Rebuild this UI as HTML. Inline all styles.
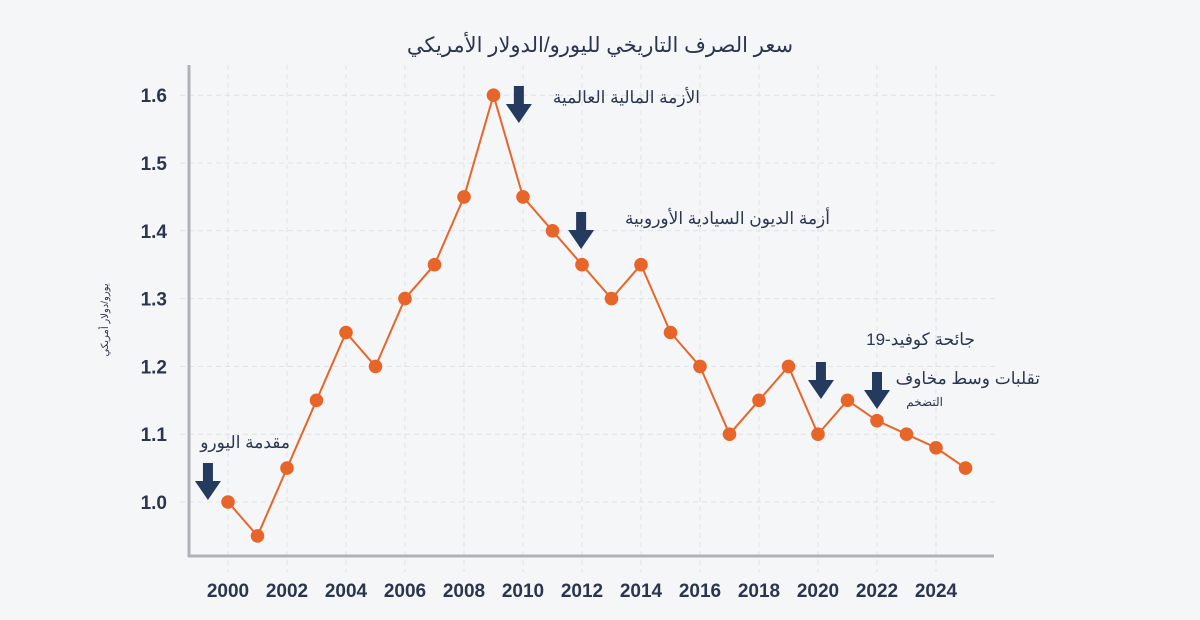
<!DOCTYPE html>
<html><head><meta charset="utf-8">
<style>
body{margin:0;background:#f5f6f8;}
svg{display:block;font-family:"Liberation Sans","Noto Sans CJK SC",sans-serif;}
</style></head>
<body>
<svg id="chart" width="1200" height="620" viewBox="0 0 1200 620">
<rect width="1200" height="620" fill="#f5f6f8"/>
<text x="600" y="52" text-anchor="middle" font-size="21" fill="#2a3550" direction="rtl">سعر الصرف التاريخي لليورو/الدولار الأمريكي</text>
<text transform="translate(108,320) rotate(-90)" text-anchor="middle" font-size="10" fill="#2a3550" direction="rtl">يورو/دولار أمريكي</text>
<g id="grid"></g>
<g id="axes"></g>
<g id="series"></g>
<g id="ann"></g>
</svg>
<script>
const years=[2000,2001,2002,2003,2004,2005,2006,2007,2008,2009,2010,2011,2012,2013,2014,2015,2016,2017,2018,2019,2020,2021,2022,2023,2024,2025];
const rates=[1.0,0.95,1.05,1.15,1.25,1.2,1.3,1.35,1.45,1.6,1.45,1.4,1.35,1.3,1.35,1.25,1.2,1.1,1.15,1.2,1.1,1.15,1.12,1.1,1.08,1.05];
const yTicks=[1.0,1.1,1.2,1.3,1.4,1.5,1.6];
const xTicks=[2000,2002,2004,2006,2008,2010,2012,2014,2016,2018,2020,2022,2024];
const events=[
 {year:1999.32,val:1.0575,label:"مقدمة اليورو",sub:"",lx:290,ly:448},
 {year:2009.86,val:1.6136,label:"الأزمة المالية العالمية",sub:"",lx:700,ly:103},
 {year:2011.97,val:1.4277,label:"أزمة الديون السيادية الأوروبية",sub:"",lx:830,ly:224},
 {year:2020.1,val:1.2065,label:"جائحة كوفيد-19",sub:"",lx:975,ly:345},
 {year:2022.0,val:1.1917,label:"تقلبات وسط مخاوف",sub:"التضخم",lx:1040,ly:384}
];
const NS="http://www.w3.org/2000/svg";
const X=y=>228+(y-2000)*29.5;
const Y=v=>502-(v-1.0)*678;
function mk(t,a,p){const e=document.createElementNS(NS,t);for(const k in a)e.setAttribute(k,a[k]);p.appendChild(e);return e;}
const grid=document.getElementById('grid'),axes=document.getElementById('axes'),ser=document.getElementById('series'),ann=document.getElementById('ann');
yTicks.forEach(v=>{
 const l=mk('line',{x1:180,x2:995,y1:Y(v),y2:Y(v),stroke:'#e0e1e5','stroke-dasharray':'5,4'},grid);
 
 
 const t=mk('text',{x:167,y:Y(v)+7,'text-anchor':'end','font-size':19,'font-weight':'bold',fill:'#2a3550'},axes);
 t.textContent=v.toFixed(1);
 
 
});
xTicks.forEach(y=>{
 const l=mk('line',{x1:X(y),x2:X(y),y1:65,y2:572,stroke:'#e0e1e5','stroke-dasharray':'5,4'},grid);
 
 
 const t=mk('text',{x:X(y),y:597,'text-anchor':'middle','font-size':19,'font-weight':'bold',fill:'#2a3550'},axes);
 t.textContent=y;
 
 
});
const ya=mk('line',{x1:189,x2:189,y1:65,y2:557,stroke:'#b0b2b8','stroke-width':3},axes);


const xa=mk('line',{x1:188,x2:994,y1:556,y2:556,stroke:'#b0b2b8','stroke-width':3},axes);


const pl=mk('polyline',{points:years.map((y,i)=>X(y)+','+Y(rates[i])).join(' '),fill:'none',stroke:'#e8652a','stroke-width':2},ser);


years.forEach((y,i)=>{
 const c=mk('circle',{cx:X(y),cy:Y(rates[i]),r:6.8,fill:'#e8652a'},ser);
 
 
});
events.forEach(e=>{
 const x=X(e.year),y=Y(e.val);
 const a=mk('path',{d:`M${x-5},${y} h10 v18 h8 l-13,19 l-13,-19 h8 z`,fill:'#243a5e'},ann);
 
 
 const t=mk('text',{x:e.lx,y:e.ly,'text-anchor':'start','font-size':17,fill:'#2a3550',direction:'rtl'},ann);
 t.textContent=e.label;
 
 
 if(e.sub){
  const s=mk('text',{x:e.lx-97,y:e.ly+22,'text-anchor':'start','font-size':12,fill:'#2a3550',direction:'rtl'},ann);
  s.textContent=e.sub;
  
  
 }
});
</script>
</body></html>
